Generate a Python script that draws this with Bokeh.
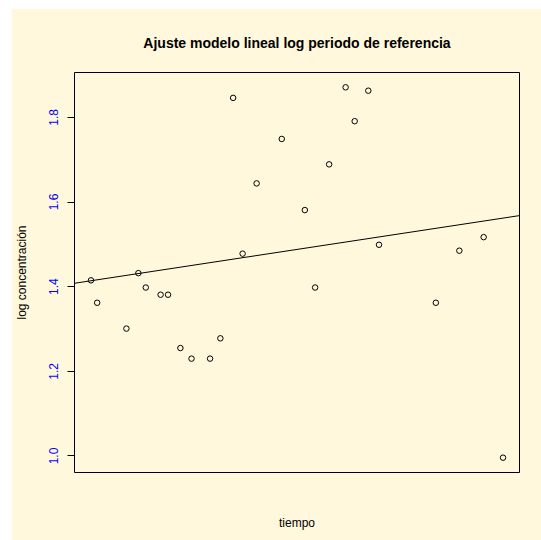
from bokeh.plotting import figure
from bokeh.models import Range1d, Slope, FixedTicker, Spacer, PrintfTickFormatter
from bokeh.layouts import row, column
from bokeh.embed import file_html
from bokeh.resources import INLINE

# Data
tiempo = [0, 1.5, 8.6, 11.5, 13.3, 16.9, 18.7, 21.7, 24.4, 28.9, 31.4, 34.5, 36.8,
          40.2, 46.3, 51.9, 54.4, 57.8, 61.8, 64.0, 67.3, 69.9, 83.7, 89.4, 95.3, 100]
log_conc = [1.415, 1.362, 1.301, 1.432, 1.398, 1.381, 1.381, 1.255, 1.230, 1.230, 1.278,
            1.846, 1.478, 1.644, 1.749, 1.581, 1.398, 1.689, 1.871, 1.791, 1.863, 1.499,
            1.362, 1.485, 1.517, 0.996]
fit_intercept = 1.414
fit_slope = 0.00148
y_ticks = [1.0, 1.2, 1.4, 1.6, 1.8]

BG = "#FFF8DC"
FONT = "Liberation Sans"

def r_range(vals):
    lo, hi = min(vals), max(vals)
    pad = (hi - lo) * 0.04
    return Range1d(lo - pad, hi + pad)

p = figure(width=530, height=532, output_backend="svg", toolbar_location=None,
           x_range=r_range(tiempo), y_range=r_range(log_conc),
           min_border_left=63, min_border_top=64, min_border_right=22, min_border_bottom=68)
p.background_fill_color = BG
p.border_fill_color = BG
p.outline_line_color = "black"
p.outline_line_width = 1
p.xgrid.visible = False
p.ygrid.visible = False

p.title.text = "Ajuste modelo lineal log periodo de referencia"
p.title.align = "center"
p.title.text_font = FONT
p.title.text_font_size = "14px"
p.title.text_font_style = "bold"
p.title.text_color = "black"
p.title.standoff = 44

# y axis (R style)
ya = p.yaxis[0]
ya.ticker = FixedTicker(ticks=y_ticks)
ya.formatter = PrintfTickFormatter(format="%.1f")
ya.bounds = (1.0, 1.8)
ya.major_label_orientation = "vertical"
ya.major_label_text_color = "blue"
ya.major_label_text_font = FONT
ya.major_label_text_font_size = "12px"
ya.major_tick_out = 7
ya.major_tick_in = 0
ya.minor_tick_out = 0
ya.minor_tick_in = 0
ya.major_label_standoff = 9
ya.axis_line_color = "black"
ya.major_tick_line_color = "black"
ya.axis_label = "log concentración"
ya.axis_label_text_font = FONT
ya.axis_label_text_font_size = "12px"
ya.axis_label_text_font_style = "normal"
ya.axis_label_text_color = "black"
ya.axis_label_standoff = 18

# x axis: only the label
xa = p.xaxis[0]
xa.axis_line_color = None
xa.major_tick_line_color = None
xa.minor_tick_line_color = None
xa.major_label_text_font_size = "0px"
xa.major_label_text_color = None
xa.axis_label = "tiempo"
xa.axis_label_text_font = FONT
xa.axis_label_text_font_size = "12px"
xa.axis_label_text_font_style = "normal"
xa.axis_label_text_color = "black"
xa.axis_label_standoff = 37

p.scatter(tiempo, log_conc, marker="circle", size=5.5, fill_color=None,
          line_color="black", line_width=1)
p.add_layout(Slope(gradient=fit_slope, y_intercept=fit_intercept,
                   line_color="black", line_width=1))

layout = column(Spacer(width=541, height=8),
                row(Spacer(width=11, height=532), p))
open("out.html", "w").write(file_html(layout, INLINE))
